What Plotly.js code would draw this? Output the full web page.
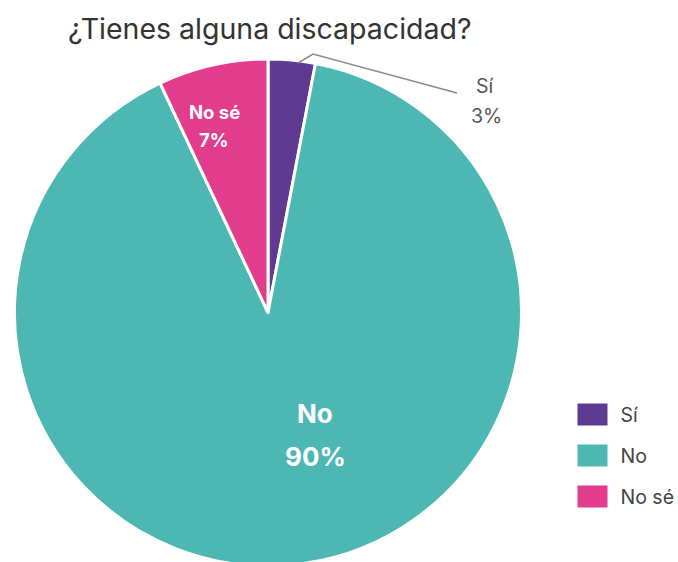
<!DOCTYPE html>
<html>
<head>
<meta charset="utf-8">
<script src="https://cdn.plot.ly/plotly-3.0.1.min.js"></script>
<style>
html,body{margin:0;padding:0;background:#fff;overflow:hidden;width:678px;height:562px;}
#chart{width:678px;height:566px;}
</style>
</head>
<body>
<div id="chart"></div>
<script>
const titleText = "¿Tienes alguna discapacidad?";
const labels = ["Sí", "No", "No sé"];
const values = [3, 90, 7];
const colors = ["#5e3a91", "#4db8b3", "#e23d8d"];

const W = 678, H = 566;
const px = x => x / W;
const py = y => 1 - y / H;

const trace = {
  type: "pie",
  labels: labels,
  values: values,
  sort: false,
  direction: "clockwise",
  rotation: 0,
  marker: { colors: colors, line: { color: "#ffffff", width: 3 } },
  textinfo: "none",
  hoverinfo: "label+percent",
  domain: { x: [px(13), px(523)], y: [0, py(59)] }
};

const total = values.reduce((a, b) => a + b, 0);
const pct = values.map(v => Math.round(100 * v / total) + "%");

const base = { xref: "paper", yref: "paper", showarrow: false, xanchor: "center", yanchor: "middle", align: "center" };
const boldSmall = { family: "Inter, Roboto, sans-serif", size: 18.5, color: "#ffffff", weight: 700 };
const boldBig = { family: "Inter, Roboto, sans-serif", size: 26, color: "#ffffff", weight: 700 };
const outer = { family: "Inter, sans-serif", size: 19.5, color: "#555555" };
const annotations = [
  { x: px(214), y: py(112), text: labels[2], font: boldSmall },
  { x: px(214), y: py(140), text: pct[2], font: boldSmall },
  { x: px(315), y: py(413), text: labels[1], font: boldBig },
  { x: px(315), y: py(456), text: pct[1], font: boldBig },
  { x: px(485), y: py(86), text: labels[0], font: outer },
  { x: px(486), y: py(116), text: pct[0], font: outer }
].map(a => Object.assign({}, base, a));

const shapes = [{
  type: "path", xref: "paper", yref: "paper",
  path: `M${px(298)},${py(63)} L${px(313)},${py(54)} L${px(457)},${py(93)}`,
  line: { color: "#8a8a8a", width: 1.5 }
}];

const layout = {
  width: W, height: H,
  margin: { l: 0, r: 0, t: 0, b: 0 },
  paper_bgcolor: "#ffffff",
  title: { text: titleText, x: px(68), xanchor: "left", y: py(29), yanchor: "middle", xref: "container", yref: "container",
           font: { family: "Inter, sans-serif", size: 28.5, color: "#333333" } },
  showlegend: true,
  legend: { x: px(568), y: py(392), xanchor: "left", yanchor: "top", font: { family: "Inter, sans-serif", size: 19.5, color: "#444444" }, bgcolor: "rgba(0,0,0,0)" },
  annotations: annotations,
  shapes: shapes
};

const gd = document.getElementById("chart");
Plotly.newPlot(gd, [trace], layout, { displayModeBar: false, staticPlot: true }).then(() => {
  // enlarge legend swatches and spacing to match the reference style
  gd.querySelectorAll(".legend [clip-path]").forEach(e => e.removeAttribute("clip-path"));
  const items = gd.querySelectorAll(".legend .traces");
  items.forEach((g, i) => {
    g.setAttribute("transform", `translate(0,${i * 41})`);
    const p = g.querySelector(".legendpoints path");
    if (p) p.setAttribute("d", "M16.5,12.5H-16.5V-12.5H16.5Z");
    const t = g.querySelector(".legendtext");
    if (t) t.setAttribute("x", 48);
  });
  if (items.length) {
    const r = items[0].querySelector(".legendpoints path").getBoundingClientRect();
    const host = gd.querySelector(".legend .scrollbox") || gd.querySelector(".legend");
    const dx = 576 - r.left, dy = 402 - r.top;
    const prev = host.getAttribute("transform") || "";
    host.setAttribute("transform", `translate(${dx},${dy}) ${prev}`);
  }
});
</script>
</body>
</html>
